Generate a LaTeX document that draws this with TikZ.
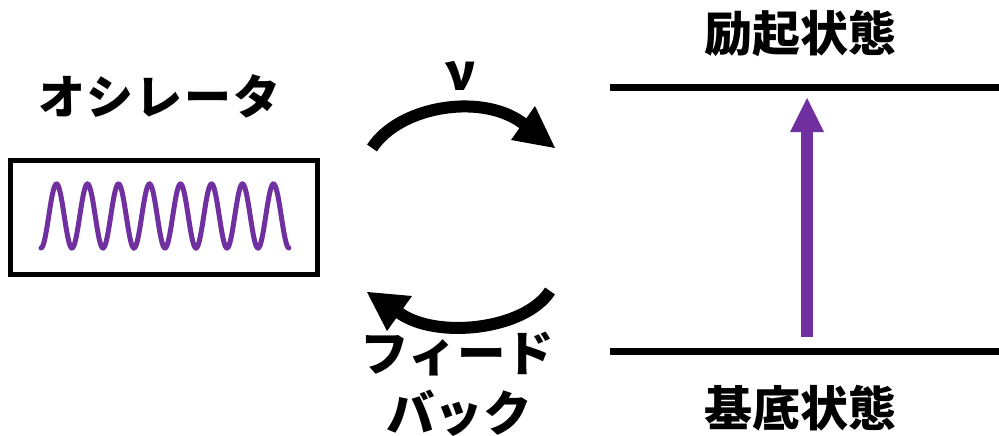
\documentclass[tikz,border=0pt]{standalone}
\usepackage{fontspec}
\newfontfamily\jp{Noto Sans CJK JP}
\usetikzlibrary{arrows.meta}
\definecolor{vio}{HTML}{7030A0}
\newcommand{\gp}{\hspace{2pt}}
\tikzset{
  lbl/.style={inner sep=0pt, font=\jp\bfseries\fontsize{47}{50}\selectfont},
  fbl/.style={inner sep=0pt, font=\jp\bfseries\fontsize{48.5}{52}\selectfont},
  kanji/.style={inner sep=0pt, font=\jp\bfseries\fontsize{48}{52}\selectfont},
  level/.style={line width=7pt, black},
  curvy/.style={line width=12pt, black},
  headtri/.style={fill=black, draw=none},
}
\begin{document}
\begin{tikzpicture}[x=1pt,y=-1pt]
\useasboundingbox (0,0) rectangle (999,436);
% oscillator
\node[lbl] (osc) at (159.5,96) {オ\gp シ\gp レ\gp ー\gp タ};
\node[draw, line width=5pt, minimum width=307pt, minimum height=114pt, inner sep=0pt] (box) at (164,217.5) {};
\draw[vio, line width=5pt, line cap=round] plot[domain=0:8, samples=300] ({41+31*\x}, {216+32*cos(360*\x)});
% levels
\coordinate (e1) at (610,88);
\coordinate (e2) at (999,88);
\coordinate (g1) at (610,351);
\coordinate (g2) at (999,351);
\draw[level] (e1) -- (e2);
\draw[level] (g1) -- (g2);
\node[kanji] (exc) at (800,34) {励起状態};
\node[kanji] (gnd) at (800,408.5) {基底状態};
% excitation arrow
\coordinate (ua) at (807,337);
\coordinate (ub) at (807,131);
\coordinate (ut) at (807,98);
\draw[vio, line width=12pt] (ua) -- (ub);
\fill[vio] (ut) -- (790,132) -- (824,132) -- cycle;
% top curved arrow
\node[inner sep=0pt, font=\jp\bfseries\fontsize{50}{54}\selectfont] (nu) at (461,76) {ν};
\coordinate (t0) at (372,148);
\coordinate (t1) at (525,125);
\coordinate (tt) at (555,148);
\draw[curvy] (t0) .. controls (400,105) and (485,92) .. (t1);
\fill[headtri] (tt) -- (535,106) -- (511,140) -- cycle;
% bottom curved arrow
\coordinate (b0) at (550,291);
\coordinate (b1) at (398,312);
\coordinate (bt) at (367,292);
\draw[curvy] (b0) .. controls (525,330) and (435,340) .. (b1);
\fill[headtri] (bt) -- (412,296) -- (387,331) -- cycle;
\node[fbl] (fb1) at (457.5,354) {フィード};
\node[fbl] (fb2) at (459,413) {バック};
\end{tikzpicture}
\end{document}
